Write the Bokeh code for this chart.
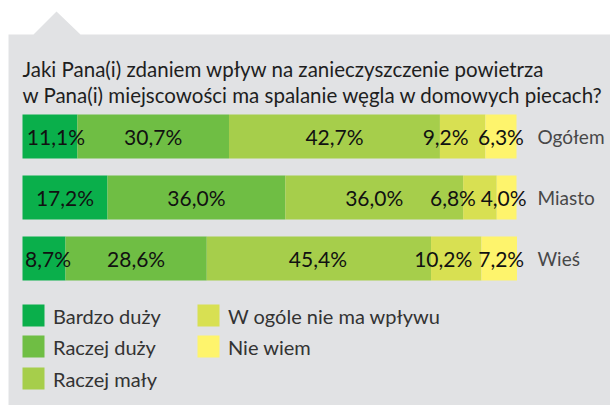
import numpy as np
from bokeh.plotting import figure
from bokeh.models import Range1d
from bokeh.core.properties import value
from bokeh.embed import file_html
from bokeh.resources import INLINE

# ---- data ----
categories = ["Ogółem", "Miasto", "Wieś"]
series_names = ["Bardzo duży", "Raczej duży", "Raczej mały", "W ogóle nie ma wpływu", "Nie wiem"]
bardzo_duzy = [11.1, 17.2, 8.7]
raczej_duzy = [30.7, 36.0, 28.6]
raczej_maly = [42.7, 36.0, 45.4]
w_ogole_nie = [9.2, 6.8, 10.2]
nie_wiem = [6.3, 4.0, 7.2]
title_lines = ["Jaki Pana(i) zdaniem wpływ na zanieczyszczenie powietrza",
               "w Pana(i) miejscowości ma spalanie węgla w domowych piecach?"]

# ---- style / layout ----
colors = ["#0aaf4b", "#6fbe44", "#a6ce4b", "#d8e052", "#fef46c"]
bg = "#e1e2e4"
W, H = 610, 405
X0_PX, PX_PER_PCT = 22.0, 4.94
ROW0_PX, PX_PER_ROW = 136.0, 61.0
FONT = "Lato"
# label nudges in px (to avoid overlaps, as in the original)
nudges = [[6, 0, 0, -17, 0], [0, 0, 0, -27, -3], [4, 0, -1, -13, 2]]

def dx(px):
    return (px - X0_PX) / PX_PER_PCT

def dy(py):
    return (py - ROW0_PX) / PX_PER_ROW

p = figure(width=W, height=H, output_backend="svg", toolbar_location=None,
           x_range=Range1d(dx(0), dx(W)), y_range=Range1d(dy(H), dy(0)),
           min_border=0, background_fill_color="white", border_fill_color="white")
p.axis.visible = False
p.grid.visible = False
p.outline_line_color = None

# background with notch
bx = [8, 33, 56, 80, W, W, 8]
by = [34, 34, 11, 34, 34, H, H]
p.patch([dx(v) for v in bx], [dy(v) for v in by], fill_color=bg, line_color=None)

# title
for i, line in enumerate(title_lines):
    p.text(x=[dx(22)], y=[dy(68 + 26 * i)], text=[line], text_font=value(FONT),
           text_font_size="20.5px", text_color="#1e1e1e", text_align="left",
           text_baseline="alphabetic")

# bars
data = np.array([bardzo_duzy, raczej_duzy, raczej_maly, w_ogole_nie, nie_wiem])
cum = np.vstack([np.zeros(len(categories)), np.cumsum(data, axis=0)])
rows = np.arange(len(categories))
bar_h = 44 / PX_PER_ROW
for j in range(len(series_names)):
    p.hbar(y=rows, left=cum[j], right=cum[j + 1], height=bar_h,
           fill_color=colors[j], line_color=None)

# percentage labels
for i in range(len(categories)):
    lx, ly, lt = [], [], []
    for j in range(len(series_names)):
        c = (cum[j][i] + cum[j + 1][i]) / 2 + nudges[i][j] / PX_PER_PCT
        lx.append(c)
        ly.append(rows[i])
        lt.append(("%.1f%%" % data[j][i]).replace(".", ","))
    p.text(x=lx, y=ly, text=lt, text_font=value(FONT), text_font_size="21px",
           text_color="#111111", text_align="center", text_baseline="middle")

# category labels
p.text(x=[dx(537)] * len(categories), y=rows, text=categories, text_font=value(FONT),
       text_font_size="19px", text_color="#484848", text_align="left",
       text_baseline="middle")

# legend
leg_sq_x = [33, 33, 33, 208, 208]
leg_sq_y = [315, 346, 378, 315, 346]
p.rect(x=[dx(v) for v in leg_sq_x], y=[dy(v) for v in leg_sq_y], width=22, height=22,
       width_units="screen", height_units="screen", fill_color=colors, line_color=None)
p.text(x=[dx(v + 19.5) for v in leg_sq_x], y=[dy(v) for v in leg_sq_y], text=series_names,
       text_font=value(FONT), text_font_size="20px", text_color="#333333",
       text_align="left", text_baseline="middle")

open("out.html", "w").write(file_html(p, INLINE))
